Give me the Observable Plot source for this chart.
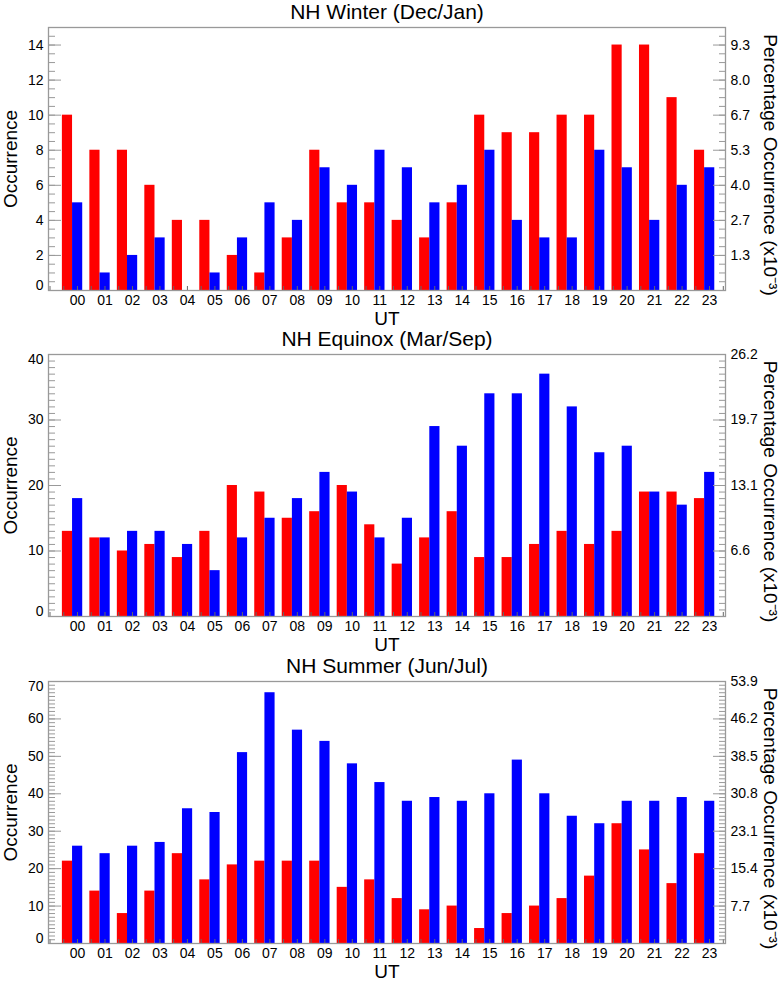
<!DOCTYPE html>
<html>
<head>
<meta charset="utf-8">
<script src="https://cdn.jsdelivr.net/npm/d3@7"></script>
<script src="https://cdn.jsdelivr.net/npm/@observablehq/plot@0.6"></script>
<style>
  html, body { margin: 0; padding: 0; background: white; }
  #chart svg { display: block; overflow: visible; }
</style>
</head>
<body>
<div id="chart"></div>
<script>
const hours = ["00","01","02","03","04","05","06","07","08","09","10","11",
               "12","13","14","15","16","17","18","19","20","21","22","23"];

const winterRed  = [10,8,8,6,4,4,2,1,3,8,5,5,4,3,5,10,9,9,10,10,14,14,11,8];
const winterBlue = [5,1,2,3,0,1,3,5,4,7,6,8,7,5,6,8,4,3,3,8,7,4,6,7];
const equinoxRed  = [13,12,10,11,9,13,20,19,15,16,20,14,8,12,16,9,9,11,13,11,13,19,19,18];
const equinoxBlue = [18,12,13,13,11,7,12,15,18,22,19,12,15,29,26,34,34,37,32,25,26,19,17,22];
const summerRed  = [22,14,8,14,24,17,21,22,22,22,15,17,12,9,10,4,8,10,12,18,32,25,16,24];
const summerBlue = [26,24,26,27,36,35,51,67,57,54,48,43,38,39,38,40,49,40,34,32,38,38,39,38];

const winterLeftTicks = [0,2,4,6,8,10,12,14];
const winterRightTicks = [2,4,6,8,10,12,14];
const winterRightLabels = ["1.3","2.7","4.0","5.3","6.7","8.0","9.3"];
const equinoxLeftTicks = [0,10,20,30,40];
const equinoxRightTicks = [10,20,30,40];
const equinoxRightLabels = ["6.6","13.1","19.7","26.2"];
const summerLeftTicks = [0,10,20,30,40,50,60,70];
const summerRightTicks = [10,20,30,40,50,60,70];
const summerRightLabels = ["7.7","15.4","23.1","30.8","38.5","46.2","53.9"];

const W = 782, ML = 48, MR = 57;
const frameW = W - ML - MR;

function panel(o) {
  const data = hours.map((h, i) => ({i, h, red: o.red[i], blue: o.blue[i]}));
  const frameH = o.height - o.marginTop - o.marginBottom;
  const ymax = o.ymax;
  const minor = d3.range(0, ymax + 1e-9, o.minorStep);
  const xminor = d3.range(-1, 23.6, 0.5);
  const rmap = new Map(o.rightTicks.map((t, k) => [t, o.rightLabels[k]]));
  const leftMid = o.leftTicks.filter(t => t !== 0 && t !== ymax);
  const leftTop = o.leftTicks.filter(t => t === ymax);
  const idx = hours.map((h, i) => i);
  return Plot.plot({
    width: W,
    height: o.height,
    marginLeft: ML,
    marginRight: MR,
    marginTop: o.marginTop,
    marginBottom: o.marginBottom,
    style: {fontFamily: "'Liberation Sans', Arial, sans-serif", fontSize: "14px", color: "black", background: "none", overflow: "visible"},
    x: {domain: [-1.055, 23.58]},
    y: {domain: [0, ymax]},
    marks: [
      Plot.rect(data, {x1: d => d.i - 0.55, x2: d => d.i - 0.18, y1: 0, y2: "red", fill: "#ff0000"}),
      Plot.rect(data, {x1: d => d.i - 0.18, x2: d => d.i + 0.19, y1: 0, y2: "blue", fill: "#0000ff"}),
      Plot.tickX(xminor, {x: d => d, insetTop: frameH - 4, stroke: "#666"}),
      Plot.tickY(o.leftTicks, {y: d => d, insetRight: frameW - 13, stroke: "#999"}),
      Plot.tickY(minor, {y: d => d, insetRight: frameW - 7, stroke: "#999"}),
      Plot.tickY(o.rightTicks, {y: d => d, insetLeft: frameW - 12, stroke: "#999"}),
      Plot.tickY(minor, {y: d => d, insetLeft: frameW - 6, stroke: "#999"}),
      Plot.frame({stroke: "#999", strokeWidth: 1.3}),
      Plot.axisY(leftMid, {anchor: "left", tickSize: 0, tickPadding: 5, label: null, tickFormat: d => String(d)}),
      Plot.axisY([0], {anchor: "left", tickSize: 0, tickPadding: 5, label: null, dy: -5, tickFormat: d => String(d)}),
      Plot.axisY(leftTop, {anchor: "left", tickSize: 0, tickPadding: 5, label: null, dy: 5, tickFormat: d => String(d)}),
      Plot.axisY(o.rightTicks, {anchor: "right", tickSize: 0, tickPadding: 5, label: null, tickFormat: d => rmap.get(d)}),
      Plot.axisX(idx, {anchor: "bottom", tickSize: 0, tickPadding: 5, label: null, tickFormat: i => hours[i]}),
      Plot.text([o.title], {text: d => d, frameAnchor: "top", lineAnchor: "middle", textAnchor: "middle", dy: -15, fontSize: 21}),
      Plot.text(["UT"], {text: d => d, frameAnchor: "bottom", lineAnchor: "middle", textAnchor: "middle", dy: 28, fontSize: 19}),
      Plot.text(["Occurrence"], {text: d => d, frameAnchor: "left", lineAnchor: "middle", textAnchor: "middle", dx: -38, rotate: -90, fontSize: 19}),
      Plot.text(["Percentage Occurrence (x10\u207B\u00B3)"], {text: d => d, frameAnchor: "right", lineAnchor: "middle", textAnchor: "middle", dx: 45, dy: 6, rotate: 90, fontSize: 19})
    ]
  });
}

const chart = document.getElementById("chart");
chart.appendChild(panel({title: "NH Winter (Dec/Jan)", red: winterRed, blue: winterBlue, ymax: 15, minorStep: 0.5,
  leftTicks: winterLeftTicks, rightTicks: winterRightTicks, rightLabels: winterRightLabels,
  height: 331, marginTop: 27, marginBottom: 41}));
chart.appendChild(panel({title: "NH Equinox (Mar/Sep)", red: equinoxRed, blue: equinoxBlue, ymax: 40, minorStep: 1,
  leftTicks: equinoxLeftTicks, rightTicks: equinoxRightTicks, rightLabels: equinoxRightLabels,
  height: 324, marginTop: 23, marginBottom: 39}));
chart.appendChild(panel({title: "NH Summer (Jun/Jul)", red: summerRed, blue: summerBlue, ymax: 70, minorStep: 1,
  leftTicks: summerLeftTicks, rightTicks: summerRightTicks, rightLabels: summerRightLabels,
  height: 328, marginTop: 26, marginBottom: 40}));
</script>
</body>
</html>
